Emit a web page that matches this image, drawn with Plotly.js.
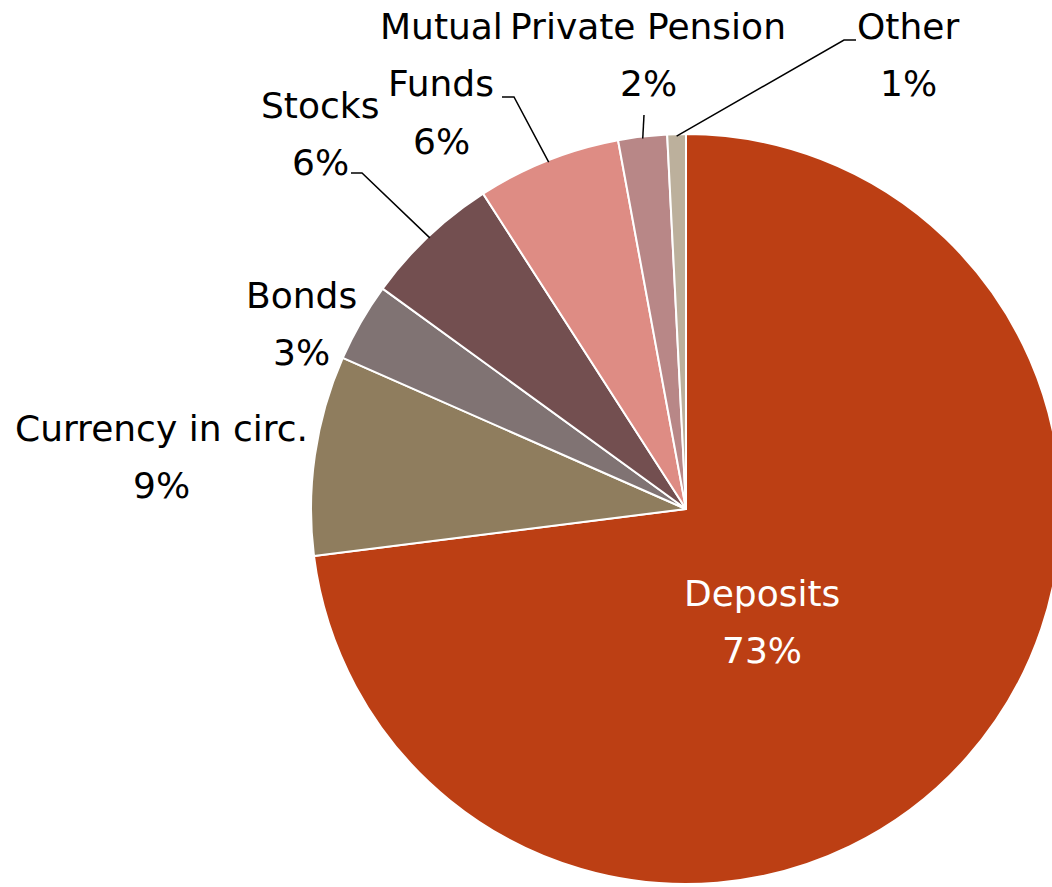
<!DOCTYPE html>
<html>
<head>
<meta charset="utf-8">
<script src="https://cdn.plot.ly/plotly-3.0.1.min.js"></script>
<style>
html,body{margin:0;padding:0;overflow:hidden;background:#fff;}
#chart{width:1080px;height:887px;}
</style>
</head>
<body>
<div id="chart"></div>
<script>
// ---- data ----
const categories = ["Deposits", "Currency in circ.", "Bonds", "Stocks", "Mutual Funds", "Private Pension", "Other"];
const shares = [73.0, 8.6, 3.4, 5.9, 6.2, 2.1, 0.8];
const pctLabels = ["73%", "9%", "3%", "6%", "6%", "2%", "1%"];
const labelLines = [["Deposits"], ["Currency in circ."], ["Bonds"], ["Stocks"], ["Mutual", "Funds"], ["Private Pension"], ["Other"]];

// ---- style / layout ----
const colors = ["#BC3F14", "#8F7D5E", "#807373", "#734F50", "#DE8C84", "#B88787", "#BCB09C"];
const W = 1080, H = 887;
const cx = 686, cy = 509, R = 375;
// label block: center x, y of first line (pixels)
const labelPos = [[762, 593], [161, 428], [301, 295], [320, 105], [441, 27], [648, 27], [908, 27]];
const lineGap = 57;
// leader lines: [start point, elbow point] in pixels, null = none
const leaders = [null, null, null, [[351, 173], [362, 173]], [[502, 97], [514, 97]], [[644, 115], [644, 115]], [[856, 40], [844, 40]]];

const px = x => x / W;
const py = y => 1 - y / H;

const data = [{
  type: "pie",
  labels: categories,
  values: shares,
  sort: false,
  direction: "clockwise",
  rotation: 0,
  textinfo: "none",
  hoverinfo: "label+percent",
  marker: {colors: colors, line: {color: "#ffffff", width: 2}},
  domain: {x: [px(cx - R), px(cx + R)], y: [py(cy + R), py(cy - R)]},
  showlegend: false
}];

const font = "DejaVu Sans, sans-serif";
const annotations = [];
categories.forEach((c, i) => {
  const lines = labelLines[i].concat([pctLabels[i]]);
  const col = i === 0 ? "#ffffff" : "#000000";
  lines.forEach((t, k) => {
    annotations.push({
      x: px(labelPos[i][0]), y: py(labelPos[i][1] + k * lineGap),
      xref: "paper", yref: "paper", xanchor: "center", yanchor: "middle",
      text: t, showarrow: false,
      font: {family: font, size: 36, color: col}
    });
  });
});

// leader lines: tip computed from slice mid-angle
const total = shares.reduce((a, b) => a + b, 0);
const shapes = [];
let cum = 0;
shares.forEach((v, i) => {
  const mid = (cum + v / 2) / total * 2 * Math.PI;
  cum += v;
  if (!leaders[i]) return;
  const tx = cx + (R - 2) * Math.sin(mid);
  const ty = cy - (R - 2) * Math.cos(mid);
  const [s, e] = leaders[i];
  const path = `M ${px(s[0])},${py(s[1])} L ${px(e[0])},${py(e[1])} L ${px(tx)},${py(ty)}`;
  shapes.push({type: "path", xref: "paper", yref: "paper", path: path, line: {color: "#000000", width: 1.5}});
});

const layout = {
  width: W, height: H,
  margin: {l: 0, r: 0, t: 0, b: 0},
  paper_bgcolor: "#ffffff",
  annotations: annotations,
  shapes: shapes
};
Plotly.newPlot("chart", data, layout, {displayModeBar: false, staticPlot: true});
</script>
</body>
</html>
